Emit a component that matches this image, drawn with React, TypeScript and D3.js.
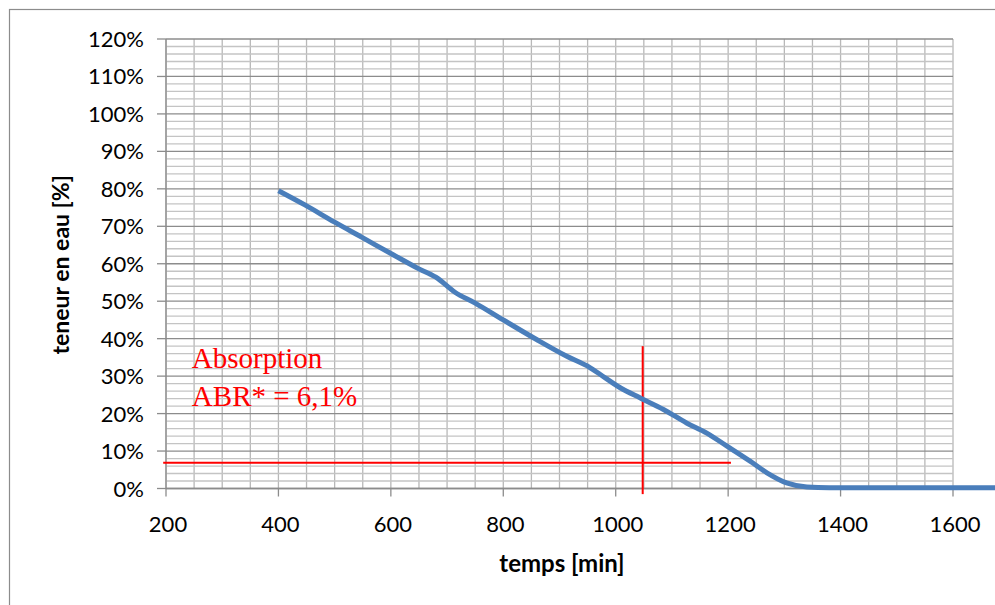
import React from "react";
import * as d3 from "d3";

// Data
const timeMin = [400, 447, 500, 548, 604, 649, 680, 714, 750, 800, 860, 913, 954, 972, 1008, 1043, 1085, 1126, 1162, 1198, 1239, 1269, 1304, 1340, 1380, 1500, 1720];
const waterPct = [79.5, 75.7, 71.1, 67.1, 62.4, 58.7, 56.4, 52.4, 49.5, 45.0, 39.7, 35.3, 32.3, 30.5, 26.9, 24.2, 21.1, 17.5, 14.8, 11.3, 7.3, 4.2, 1.5, 0.4, 0.2, 0.2, 0.2];

const xTickValues = [200, 400, 600, 800, 1000, 1200, 1400, 1600];
const yTickValues = [0, 10, 20, 30, 40, 50, 60, 70, 80, 90, 100, 110, 120];

// Annotation (red lines) in data units
const hLineT = [195, 1205];
const hLineV = 6.9;
const vLineT = 1048;
const vLineV = [-1.5, 38];
const annotTextT = 246;
const annotLines = ["Absorption", "ABR* = 6,1%"];
const annotLineV = [32.2, 22.0];

const W = 995;
const H = 605;

export default function App() {
  const x = d3.scaleLinear().domain([200, 1600]).range([166, 953]);
  const y = d3.scaleLinear().domain([0, 120]).range([488.5, 39]);

  const xGrid = d3.range(200, 1601, 50);
  const yMinor = d3.range(0, 121, 2).filter((v) => v % 10 !== 0);

  const data = timeMin.map((t, i) => [t, waterPct[i]] as [number, number]);
  const line = d3
    .line<[number, number]>()
    .x((d) => x(d[0]))
    .y((d) => y(d[1]))
    .curve(d3.curveMonotoneX);

  const font = "Lato, 'Open Sans', sans-serif";

  return (
    <div style={{ position: "absolute", left: 0, top: 0, width: W, height: H, overflow: "hidden", background: "#fff" }}>
      <svg width={W} height={H} style={{ display: "block" }}>
        <rect x={0} y={0} width={W} height={H} fill="#fff" />
        {/* outer chart frame */}
        <rect x={9.5} y={9.5} width={W + 20} height={H + 20} fill="none" stroke="#8c8c8c" strokeWidth={1.2} />

        {/* vertical gridlines */}
        {xGrid.map((t) => (
          <line key={"vx" + t} x1={x(t)} x2={x(t)} y1={y(120)} y2={y(0)} stroke="#b8b8b8" strokeWidth={1.3} />
        ))}
        {/* minor horizontal gridlines */}
        {yMinor.map((v) => (
          <line key={"hm" + v} x1={x(200)} x2={x(1600)} y1={y(v)} y2={y(v)} stroke="#c4c4c4" strokeWidth={1.3} />
        ))}
        {/* major horizontal gridlines */}
        {yTickValues.map((v) => (
          <line key={"hM" + v} x1={x(200)} x2={x(1600)} y1={y(v)} y2={y(v)} stroke="#8c8c8c" strokeWidth={1.3} />
        ))}

        {/* y axis */}
        <line x1={x(200)} x2={x(200)} y1={y(120)} y2={y(0)} stroke="#8c8c8c" strokeWidth={1.3} />
        {yTickValues.map((v) => (
          <g key={"yt" + v}>
            <line x1={x(200) - 9} x2={x(200)} y1={y(v)} y2={y(v)} stroke="#8c8c8c" strokeWidth={1.3} />
            <text x={144} y={y(v) + 8} textAnchor="end" fontFamily={font} fontSize={22} fill="#000">
              {v + "%"}
            </text>
          </g>
        ))}

        {/* x axis */}
        <line x1={x(200)} x2={x(1600)} y1={y(0)} y2={y(0)} stroke="#8c8c8c" strokeWidth={1.3} />
        {xTickValues.map((t) => (
          <g key={"xt" + t}>
            <line x1={x(t)} x2={x(t)} y1={y(0)} y2={y(0) + 8} stroke="#8c8c8c" strokeWidth={1.3} />
            <text x={x(t) + 2} y={532} textAnchor="middle" fontFamily={font} fontSize={22} fill="#000">
              {t}
            </text>
          </g>
        ))}

        {/* axis titles */}
        <text x={562} y={572} textAnchor="middle" fontFamily={font} fontSize={24} fontWeight="bold" fill="#000">
          temps [min]
        </text>
        <text
          transform={`translate(69, ${(y(0) + y(120)) / 2 + 1}) rotate(-90)`}
          textAnchor="middle"
          fontFamily={font}
          fontSize={23}
          fontWeight="bold"
          fill="#000"
        >
          teneur en eau [%]
        </text>

        {/* red annotation lines */}
        <line x1={x(hLineT[0])} x2={x(hLineT[1])} y1={y(hLineV)} y2={y(hLineV)} stroke="#ff0000" strokeWidth={2} />
        <line x1={x(vLineT)} x2={x(vLineT)} y1={y(vLineV[0])} y2={y(vLineV[1])} stroke="#ff0000" strokeWidth={2} />

        {/* data line */}
        <path d={line(data) || ""} fill="none" stroke="#4a7ebb" strokeWidth={5} strokeLinecap="butt" strokeLinejoin="round" />

        {/* annotation text */}
        {annotLines.map((s, i) => (
          <text key={"an" + i} x={x(annotTextT)} y={y(annotLineV[i])} fontFamily="'Liberation Serif', 'Times New Roman', serif" fontSize={29} fill="#ff0000">
            {s}
          </text>
        ))}
      </svg>
    </div>
  );
}
